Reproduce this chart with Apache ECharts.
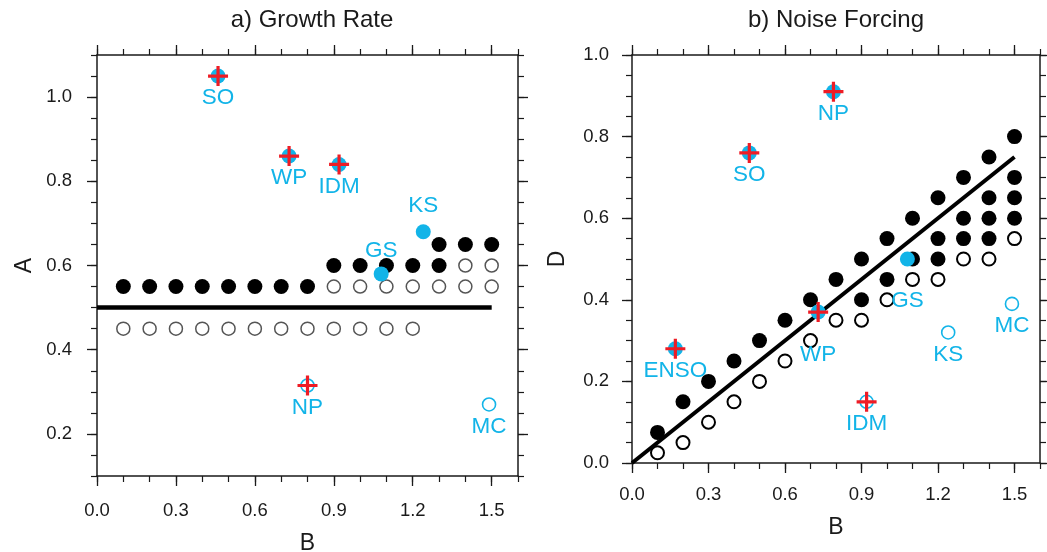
<!DOCTYPE html>
<html>
<head>
<meta charset="utf-8">
<title>Growth Rate / Noise Forcing</title>
<script src="https://cdn.jsdelivr.net/npm/echarts@6/dist/echarts.min.js"></script>
<style>
	html, body { margin: 0; padding: 0; background: #fff; }
	#chart { width: 1047px; height: 552px; }
</style>
</head>
<body>
<div id="chart"></div>
<script>
/*
 * panel a) Growth Rate : A vs B
 */
var aFilledB = [0.1, 0.2, 0.3, 0.4, 0.5, 0.6, 0.7, 0.8, 0.9, 1.0, 1.1, 1.2, 1.3, 1.3, 1.4, 1.5];
var aFilledA = [0.55, 0.55, 0.55, 0.55, 0.55, 0.55, 0.55, 0.55, 0.6, 0.6, 0.6, 0.6, 0.6, 0.65, 0.65, 0.65];
var aOpenB = [0.1, 0.2, 0.3, 0.4, 0.5, 0.6, 0.7, 0.8, 0.9, 1.0, 1.1, 1.2,
	0.9, 1.0, 1.1, 1.2, 1.3, 1.4, 1.5, 1.4, 1.5];
var aOpenA = [0.45, 0.45, 0.45, 0.45, 0.45, 0.45, 0.45, 0.45, 0.45, 0.45, 0.45, 0.45,
	0.55, 0.55, 0.55, 0.55, 0.55, 0.55, 0.55, 0.6, 0.6];
var aLineB = [0, 1.5];
var aLineA = [0.5, 0.5];
var aSiteNames = ['SO', 'WP', 'IDM', 'KS', 'GS', 'NP', 'MC'];
var aSiteB = [0.46, 0.73, 0.92, 1.24, 1.08, 0.80, 1.49];
var aSiteA = [1.05, 0.86, 0.84, 0.68, 0.58, 0.315, 0.27];
var aSiteFilled = [1, 1, 1, 1, 1, 0, 0];
var aSiteCross = [1, 1, 1, 0, 0, 1, 0];

/*
 * panel b) Noise Forcing : D vs B
 */
var dFilledB = [0.1, 0.2, 0.3, 0.4, 0.5, 0.6, 0.7, 0.8, 0.9, 0.9, 1.0, 1.0, 1.1, 1.1,
	1.2, 1.2, 1.2, 1.3, 1.3, 1.3, 1.4, 1.4, 1.4, 1.4, 1.5, 1.5, 1.5, 1.5];
var dFilledD = [0.075, 0.15, 0.2, 0.25, 0.3, 0.35, 0.4, 0.45, 0.4, 0.5, 0.45, 0.55, 0.5, 0.6,
	0.5, 0.55, 0.65, 0.55, 0.6, 0.7, 0.55, 0.6, 0.65, 0.75, 0.6, 0.65, 0.7, 0.8];
var dOpenB = [0.1, 0.2, 0.3, 0.4, 0.5, 0.6, 0.7, 0.8, 0.9, 1.0, 1.1, 1.2, 1.3, 1.4, 1.5];
var dOpenD = [0.025, 0.05, 0.1, 0.15, 0.2, 0.25, 0.3, 0.35, 0.35, 0.4, 0.45, 0.45, 0.5, 0.5, 0.55];
var dLineB = [0, 1.5];
var dLineD = [0, 0.75];
var dSiteNames = ['SO', 'NP', 'WP', 'ENSO', 'IDM', 'GS', 'KS', 'MC'];
var dSiteB = [0.46, 0.79, 0.73, 0.17, 0.92, 1.08, 1.24, 1.49];
var dSiteD = [0.76, 0.91, 0.37, 0.28, 0.15, 0.50, 0.32, 0.39];
var dSiteFilled = [1, 1, 1, 1, 0, 1, 0, 0];
var dSiteCross = [1, 1, 1, 1, 1, 0, 0, 0];

// tick labels
var bTicks = [0, 0.3, 0.6, 0.9, 1.2, 1.5];
var aTicks = [0.2, 0.4, 0.6, 0.8, 1.0];
var dTicks = [0, 0.2, 0.4, 0.6, 0.8, 1.0];

// layout / style (not data)
var FONT = 'Liberation Sans';
var CYAN = '#12b4e8';
var RED = '#ee1c25';
var INK = '#1a1a1a';
var CROSS = 'path://M8.4,0h3.2v20h-3.2z M0,8.4h20v3.2h-20z';
// vertical label shift (px) from site centre, default 22
var aLabelShift = { KS: -26, GS: -23 };
var dLabelShift = { WP: 43, GS: 42 };

function fmt(v){
	return Number(v).toFixed(1);
}

function pairs(xs, ys){
	return xs.map(function(x, i){ return [x, ys[i]]; });
}

/*
 * major axis (line, long ticks, labels) + minor axis (short ticks) for one side
 */
function axisPair(gi, pos, min, max, majors, minorStep, showLabel, name, nameGap, margin){
	var major = {
		type: 'value', gridIndex: gi, position: pos, min: min, max: max,
		name: name || '', nameLocation: 'middle', nameGap: nameGap || 0,
		nameTextStyle: { fontSize: 23, color: INK, fontFamily: FONT },
		axisLine: { show: true, onZero: false, lineStyle: { color: INK, width: 1.5 } },
		axisTick: { show: true, inside: false, length: 10, customValues: majors, lineStyle: { color: INK, width: 1.3 } },
		axisLabel: { show: showLabel, customValues: majors, formatter: fmt, margin: margin || 24,
			fontSize: 18.5, color: INK, fontFamily: FONT },
		splitLine: { show: false }
	};
	var minor = {
		type: 'value', gridIndex: gi, position: pos, min: min, max: max, interval: minorStep,
		axisLine: { show: false, onZero: false },
		axisTick: { show: true, inside: false, length: 6, lineStyle: { color: INK, width: 1.2 } },
		axisLabel: { show: false },
		splitLine: { show: false }
	};
	return [major, minor];
}

function siteSeries(axisIdx, names, xs, ys, filled, shift){
	var items = names.map(function(n, i){
		var dy = shift[n] !== undefined ? shift[n] : 22;
		var open = !filled[i];
		return {
			name: n,
			value: [xs[i], ys[i]],
			symbolSize: open ? 13 : 15,
			itemStyle: open
				? { color: 'rgba(255,255,255,0)', borderColor: CYAN, borderWidth: 1.6, opacity: 1 }
				: { color: CYAN, opacity: 1 },
			label: { offset: [0, dy] }
		};
	});
	return {
		type: 'scatter', xAxisIndex: axisIdx, yAxisIndex: axisIdx, symbol: 'circle',
		data: items, z: 4,
		label: { show: true, position: 'inside', formatter: '{b}', color: CYAN,
			fontSize: 22.5, fontFamily: FONT },
		emphasis: { disabled: true }
	};
}

function crossSeries(axisIdx, xs, ys, cross){
	var pts = [];
	for (var i = 0; i < xs.length; i++){
		if (cross[i]) pts.push([xs[i], ys[i]]);
	}
	return {
		type: 'scatter', xAxisIndex: axisIdx, yAxisIndex: axisIdx,
		symbol: CROSS, symbolSize: 20, itemStyle: { color: RED, opacity: 1 }, data: pts, z: 5,
		emphasis: { disabled: true }
	};
}

var xAxes = []
	.concat(axisPair(0, 'bottom', 0, 1.6, bTicks, 0.1, true, 'B', 56, 25))
	.concat(axisPair(0, 'top', 0, 1.6, bTicks, 0.1, false))
	.concat(axisPair(1, 'bottom', 0, 1.6, bTicks, 0.1, true, 'B', 53, 22))
	.concat(axisPair(1, 'top', 0, 1.6, bTicks, 0.1, false));

var yAxes = []
	.concat(axisPair(0, 'left', 0.1, 1.1, aTicks, 0.05, true, 'A', 61, 25))
	.concat(axisPair(0, 'right', 0.1, 1.1, aTicks, 0.05, false))
	.concat(axisPair(1, 'left', 0, 1.0, dTicks, 0.05, true, 'D', 63, 23))
	.concat(axisPair(1, 'right', 0, 1.0, dTicks, 0.05, false));

var myChart = echarts.init(document.getElementById('chart'));

var option = {
	animation: false,
	backgroundColor: '#fff',
	title: [
		{ text: 'a) Growth Rate', left: 307, top: 3, textAlign: 'center',
			textStyle: { fontSize: 24, fontWeight: 'normal', color: INK, fontFamily: FONT } },
		{ text: 'b) Noise Forcing', left: 831, top: 3, textAlign: 'center',
			textStyle: { fontSize: 24, fontWeight: 'normal', color: INK, fontFamily: FONT } }
	],
	grid: [
		{ left: 97, top: 55, width: 421, height: 421, outerBoundsMode: 'none' },
		{ left: 632, top: 55, width: 408, height: 408, outerBoundsMode: 'none' }
	],
	xAxis: xAxes,
	yAxis: yAxes,
	series: [
		// a) Growth Rate
		{ type: 'line', xAxisIndex: 0, yAxisIndex: 0, data: pairs(aLineB, aLineA), showSymbol: false,
			symbol: 'none', lineStyle: { color: '#000', width: 4.5 }, z: 1 },
		{ type: 'scatter', xAxisIndex: 0, yAxisIndex: 0, data: pairs(aFilledB, aFilledA),
			symbol: 'circle', symbolSize: 15, itemStyle: { color: '#000', opacity: 1 }, z: 2 },
		{ type: 'scatter', xAxisIndex: 0, yAxisIndex: 0, data: pairs(aOpenB, aOpenA),
			symbol: 'circle', symbolSize: 13,
			itemStyle: { color: 'rgba(255,255,255,0)', borderColor: '#555', borderWidth: 1.5, opacity: 1 }, z: 2 },
		siteSeries(0, aSiteNames, aSiteB, aSiteA, aSiteFilled, aLabelShift),
		crossSeries(0, aSiteB, aSiteA, aSiteCross),

		// b) Noise Forcing
		{ type: 'line', xAxisIndex: 4, yAxisIndex: 4, data: pairs(dLineB, dLineD), showSymbol: false,
			symbol: 'none', lineStyle: { color: '#000', width: 4 }, z: 1 },
		{ type: 'scatter', xAxisIndex: 4, yAxisIndex: 4, data: pairs(dFilledB, dFilledD),
			symbol: 'circle', symbolSize: 15, itemStyle: { color: '#000', opacity: 1 }, z: 2 },
		{ type: 'scatter', xAxisIndex: 4, yAxisIndex: 4, data: pairs(dOpenB, dOpenD),
			symbol: 'circle', symbolSize: 13,
			itemStyle: { color: 'rgba(255,255,255,0)', borderColor: '#000', borderWidth: 2, opacity: 1 }, z: 2 },
		siteSeries(4, dSiteNames, dSiteB, dSiteD, dSiteFilled, dLabelShift),
		crossSeries(4, dSiteB, dSiteD, dSiteCross)
	]
};
myChart.setOption(option);
</script>
</body>
</html>
